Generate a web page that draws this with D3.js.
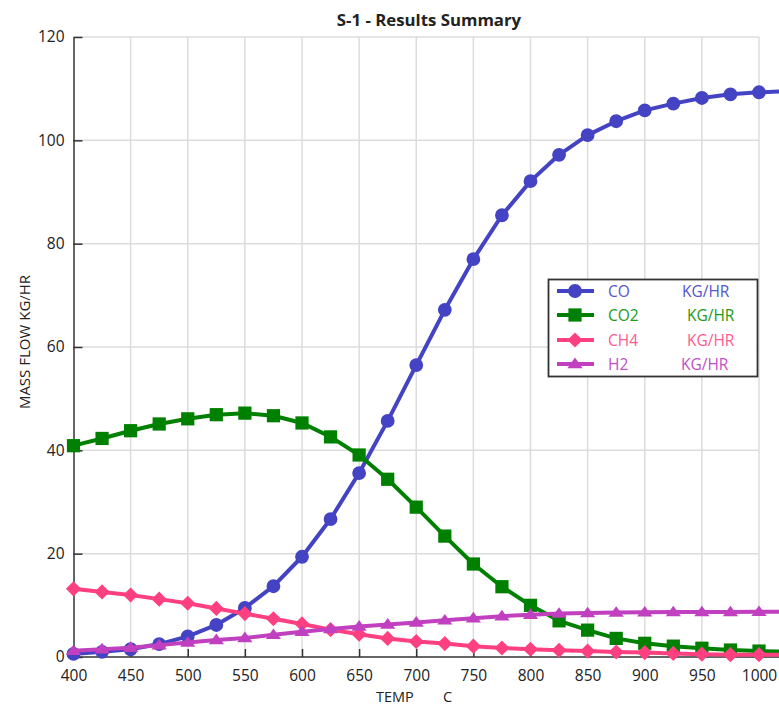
<!DOCTYPE html>
<html><head><meta charset="utf-8">
<script src="https://cdn.jsdelivr.net/npm/d3@7"></script>
<style>
body{margin:0;background:#fff;}
svg{display:block;font-family:"Open Sans","Noto Sans",sans-serif;}
</style></head><body>
<svg id="c" width="779" height="707"></svg>
<script>
const temps = [400,425,450,475,500,525,550,575,600,625,650,675,700,725,750,775,800,825,850,875,900,925,950,975,1000,1025];
const coVals  = [0.6,1.0,1.5,2.5,4.0,6.2,9.5,13.7,19.4,26.7,35.6,45.7,56.5,67.2,77.0,85.5,92.1,97.2,101.0,103.7,105.8,107.1,108.2,108.9,109.3,109.5];
const co2Vals = [40.9,42.3,43.8,45.1,46.1,46.9,47.2,46.7,45.3,42.6,39.1,34.4,29.0,23.4,18.0,13.6,10.0,7.0,5.2,3.6,2.65,2.1,1.7,1.35,1.15,1.0];
const ch4Vals = [13.2,12.6,12.0,11.2,10.4,9.4,8.4,7.4,6.4,5.3,4.4,3.6,3.0,2.6,2.1,1.75,1.5,1.3,1.15,0.97,0.85,0.7,0.55,0.45,0.45,0.4];
const h2Vals  = [1.2,1.5,1.8,2.3,2.8,3.3,3.7,4.3,4.9,5.4,5.9,6.3,6.7,7.1,7.5,7.9,8.2,8.4,8.5,8.6,8.65,8.7,8.7,8.7,8.75,8.75];
const seriesNames = ["CO","CO2","CH4","H2"];
const seriesUnits = ["KG/HR","KG/HR","KG/HR","KG/HR"];
const xTicks = [400,450,500,550,600,650,700,750,800,850,900,950,1000];
const yTicks = [0,20,40,60,80,100,120];

const colors = ["#4343c3","#008000","#ff4080","#c040c0"];
const textColors = ["#5555cc","#1a9a1a","#ff5a90","#c050c8"];
const unitX = [682,687,687,681];

// marker generators
const diamond = {draw(ctx,size){const r=Math.sqrt(size/2);ctx.moveTo(0,-r);ctx.lineTo(r,0);ctx.lineTo(0,r);ctx.lineTo(-r,0);ctx.closePath();}};
const flatTri = {draw(ctx,size){const w=Math.sqrt(size*1.6);const h=w*0.7;ctx.moveTo(0,-h*0.6);ctx.lineTo(w/2,h*0.4);ctx.lineTo(-w/2,h*0.4);ctx.closePath();}};
const shapes = [d3.symbolCircle,d3.symbolSquare,diamond,flatTri];
const sizes = [150,175,115,145];

const svg = d3.select("#c");
const x = d3.scaleLinear().domain([400,1000]).range([73.5,759]);
const y = d3.scaleLinear().domain([0,120]).range([657,37]);
const fs = 15.5;

// grid
const g = svg.append("g");
g.selectAll(".vg").data(xTicks.slice(1)).enter().append("line")
  .attr("x1",d=>x(d)).attr("x2",d=>x(d)).attr("y1",y(120)).attr("y2",y(0))
  .attr("stroke","#dcdcdc").attr("stroke-width",1.5);
g.selectAll(".hg").data(yTicks.slice(1)).enter().append("line")
  .attr("x1",x(400)).attr("x2",x(1000)).attr("y1",d=>y(d)).attr("y2",d=>y(d))
  .attr("stroke","#dcdcdc").attr("stroke-width",1.5);

// axes
const xAxis = d3.axisBottom(x).tickValues(xTicks).tickFormat(d3.format("d")).tickSizeInner(-8).tickSizeOuter(0).tickPadding(13);
const xg = svg.append("g").attr("transform",`translate(0,${y(0)})`).call(xAxis);
xg.select(".domain").attr("d",`M${x(400)},0H779`).attr("stroke","#333").attr("stroke-width",1.5);
xg.selectAll(".tick line").attr("stroke","#333").attr("stroke-width",1.5);
xg.selectAll("text").attr("font-size",fs).attr("fill","#222").attr("font-family","Open Sans");

const yAxis = d3.axisLeft(y).tickValues(yTicks).tickSizeInner(-9).tickSizeOuter(0).tickPadding(9);
const yg = svg.append("g").attr("transform",`translate(${x(400)},0)`).call(yAxis);
yg.select(".domain").attr("stroke","#333").attr("stroke-width",1.5);
yg.selectAll(".tick line").attr("stroke","#333").attr("stroke-width",1.5);
yg.selectAll("text").attr("font-size",fs).attr("fill","#222").attr("font-family","Open Sans");

// series
const allVals = [coVals,co2Vals,ch4Vals,h2Vals];
const line = d3.line().x(d=>x(d[0])).y(d=>y(d[1]));
allVals.forEach((vals,i)=>{
  const pts = temps.map((t,j)=>[t,vals[j]]);
  svg.append("path").datum(pts).attr("d",line).attr("fill","none")
    .attr("stroke",colors[i]).attr("stroke-width",4).attr("stroke-linejoin","round");
  svg.selectAll(".m"+i).data(pts).enter().append("path")
    .attr("transform",d=>`translate(${x(d[0])},${y(d[1])})`)
    .attr("d",d3.symbol().type(shapes[i]).size(sizes[i])).attr("fill",colors[i]);
});

// title & axis labels
svg.append("text").attr("x",429).attr("y",26).attr("text-anchor","middle")
  .attr("font-size",16.8).attr("font-weight","bold").attr("fill","#222").text("S-1 - Results Summary");
svg.append("text").attr("transform","translate(30,342) rotate(-90)").attr("text-anchor","middle")
  .attr("font-size",15).attr("fill","#222").text("MASS FLOW KG/HR");
svg.append("text").attr("x",376).attr("y",702).attr("font-size",14.5).attr("fill","#222").text("TEMP");
svg.append("text").attr("x",443).attr("y",702).attr("font-size",14.5).attr("fill","#222").text("C");

// legend
const lg = svg.append("g");
lg.append("rect").attr("x",548.5).attr("y",279.5).attr("width",209).attr("height",97)
  .attr("fill","#fff").attr("stroke","#333").attr("stroke-width",1.8);
const rowY = [291,315,340,364];
seriesNames.forEach((n,i)=>{
  lg.append("line").attr("x1",557).attr("x2",594).attr("y1",rowY[i]).attr("y2",rowY[i])
    .attr("stroke",colors[i]).attr("stroke-width",4);
  lg.append("path").attr("transform",`translate(575,${rowY[i]})`)
    .attr("d",d3.symbol().type(shapes[i]).size(sizes[i])).attr("fill",colors[i]);
  lg.append("text").attr("x",608).attr("y",rowY[i]+5.5).attr("font-size",15.5).attr("fill",textColors[i]).text(n);
  lg.append("text").attr("x",unitX[i]).attr("y",rowY[i]+5.5).attr("font-size",15.5).attr("fill",textColors[i]).text(seriesUnits[i]);
});
</script></body></html>
